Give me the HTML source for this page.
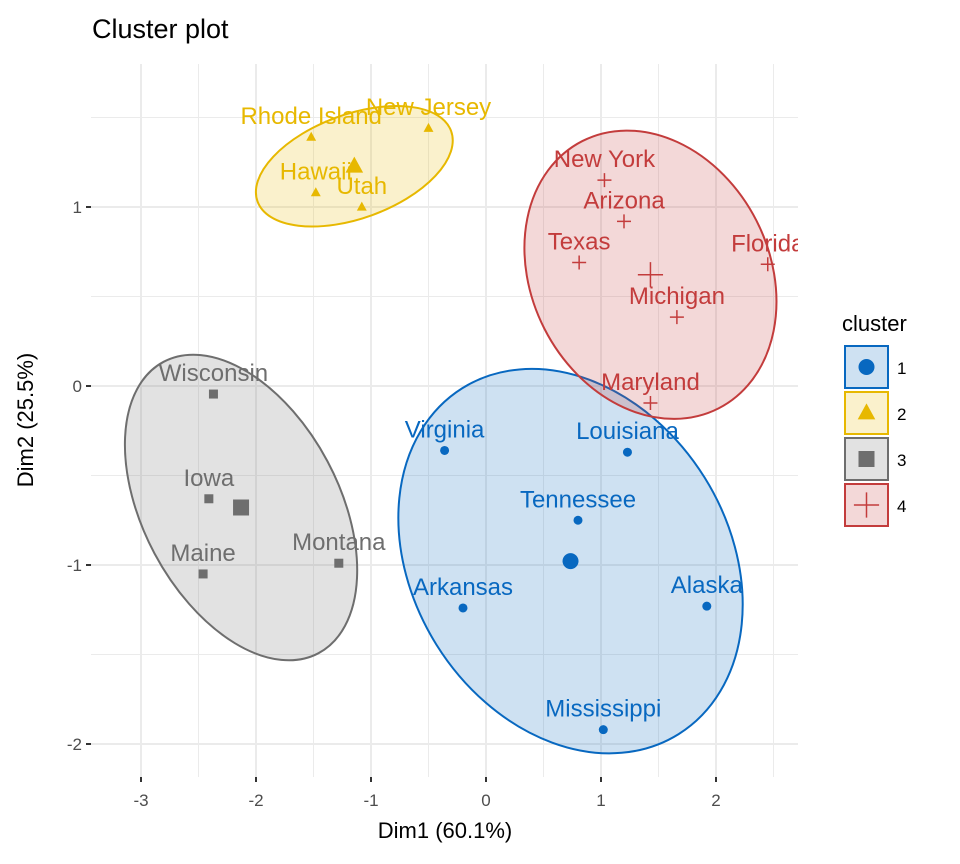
<!DOCTYPE html>
<html><head><meta charset="utf-8"><style>
body{margin:0;background:#fff;}
svg{display:block;font-family:"Liberation Sans",sans-serif;}
</style></head><body>
<svg id="chart" width="960" height="864" viewBox="0 0 960 864">
<defs><clipPath id="panel"><rect x="91" y="64" width="707" height="713"/></clipPath></defs>
<text x="92" y="38" font-size="27" fill="#000">Cluster plot</text>
<g id="grid"></g>
<g id="ellipses" clip-path="url(#panel)"></g>
<g id="points" clip-path="url(#panel)"></g>
<g id="axes"></g>
<text x="445" y="838" font-size="22" text-anchor="middle" fill="#000">Dim1 (60.1%)</text>
<text transform="translate(33,420) rotate(-90)" font-size="22" text-anchor="middle" fill="#000">Dim2 (25.5%)</text>
<g id="legend"></g>
</svg>
<script>
const names = ["Rhode Island","New Jersey","Hawaii","Utah","New York","Arizona","Texas","Florida","Michigan","Maryland","Virginia","Louisiana","Tennessee","Arkansas","Alaska","Mississippi","Wisconsin","Iowa","Maine","Montana"];
const dim1 = [-1.52,-0.5,-1.48,-1.08,1.03,1.2,0.81,2.45,1.66,1.43,-0.36,1.23,0.8,-0.2,1.92,1.02,-2.37,-2.41,-2.46,-1.28];
const dim2 = [1.39,1.44,1.08,1.0,1.15,0.92,0.69,0.68,0.385,-0.095,-0.36,-0.37,-0.75,-1.24,-1.23,-1.92,-0.045,-0.63,-1.05,-0.99];
const clusterOf = [2,2,2,2,4,4,4,4,4,4,1,1,1,1,1,1,3,3,3,3];
const clusterIds = [1,2,3,4];
const xTicks = [-3,-2,-1,0,1,2];
const yTicks = [-2,-1,0,1];

const colors = {1:"#0868c0",2:"#e7b800",3:"#6e6e6e",4:"#c33c3c"};
const fills = {1:"rgba(8,104,192,0.2)",2:"rgba(231,184,0,0.2)",3:"rgba(110,110,110,0.2)",4:"rgba(195,60,60,0.2)"};
const ell = {1:[204,158,58],2:[103,52,-20],3:[165,98,62],4:[150,119,63]};
const L=91,R=798,T=64,B=777;
const X=v=>486+v*115;
const Y=v=>386-v*179;
const NS="http://www.w3.org/2000/svg";
function mk(tag,at,parent){const e=document.createElementNS(NS,tag);for(const k in at)e.setAttribute(k,at[k]);parent.appendChild(e);return e;}
const grid=document.getElementById('grid'),axes=document.getElementById('axes'),pts=document.getElementById('points'),el=document.getElementById('ellipses'),lg=document.getElementById('legend');
for(let i=-3;i<=2.5;i+=0.5){const x=X(i);if(x<L||x>R)continue;const g=mk('line',{x1:x,x2:x,y1:T,y2:B,stroke:'#ebebeb','stroke-width':Number.isInteger(i)?2:1},grid);

}
for(let i=-2;i<=1.5;i+=0.5){const y=Y(i);const g=mk('line',{x1:L,x2:R,y1:y,y2:y,stroke:'#ebebeb','stroke-width':Number.isInteger(i)?2:1},grid);

}
xTicks.forEach(t=>{const x=X(t);mk('line',{x1:x,x2:x,y1:B,y2:B+5,stroke:'#333','stroke-width':2},axes);
const tx=mk('text',{x:x,y:B+29,'font-size':17,'text-anchor':'middle',fill:'#4d4d4d'},axes);tx.textContent=t;

});
yTicks.forEach(t=>{const y=Y(t);mk('line',{x1:L-5,x2:L,y1:y,y2:y,stroke:'#333','stroke-width':2},axes);
const tx=mk('text',{x:L-9,y:y+6,'font-size':17,'text-anchor':'end',fill:'#4d4d4d'},axes);tx.textContent=t;

});
function marker(c,x,y,s,parent){
 if(c===1)return mk('circle',{cx:x,cy:y,r:s,fill:colors[c]},parent);
 if(c===2)return mk('polygon',{points:`${x},${y-s*1.2} ${x-s*1.1},${y+s*0.8} ${x+s*1.1},${y+s*0.8}`,fill:colors[c]},parent);
 if(c===3)return mk('rect',{x:x-s,y:y-s,width:2*s,height:2*s,fill:colors[c]},parent);
 return mk('path',{d:`M${x-s*1.4},${y}H${x+s*1.4}M${x},${y-s*1.4}V${y+s*1.4}`,stroke:colors[c],'stroke-width':1.5,fill:'none'},parent);
}
clusterIds.forEach(c=>{
 let sx=0,sy=0,n=0;names.forEach((_,i)=>{if(clusterOf[i]===c){sx+=dim1[i];sy+=dim2[i];n++;}});
 const cx=X(sx/n),cy=Y(sy/n);const e=ell[c];
 const E=mk('ellipse',{cx:cx,cy:cy,rx:e[0],ry:e[1],transform:`rotate(${e[2]} ${cx} ${cy})`,fill:fills[c],stroke:colors[c],'stroke-width':2},el);
 
 
 const m=marker(c,cx,cy,c===4?9:8,pts);
 
 
});
names.forEach((nm,i)=>{const c=clusterOf[i];const x=X(dim1[i]),y=Y(dim2[i]);
 const m=marker(c,x,y,c===4?5:4.5,pts);
 
 
 const t=mk('text',{x:x,y:y-13,'font-size':24,'text-anchor':'middle',fill:colors[c]},pts);t.textContent=nm;
 
 
});
const lt=mk('text',{x:842,y:331,'font-size':22,fill:'#000'},lg);lt.textContent='cluster';


clusterIds.forEach((c,k)=>{const y0=346+k*46;
 const r=mk('rect',{x:845,y:y0,width:43,height:42,fill:fills[c],stroke:colors[c],'stroke-width':2},lg);
 
 
 marker(c,866.5,y0+21,c===4?9:8,lg);
 const t=mk('text',{x:897,y:y0+28,'font-size':17,fill:'#000'},lg);t.textContent=c;
 
 
});
</script>
</body></html>
